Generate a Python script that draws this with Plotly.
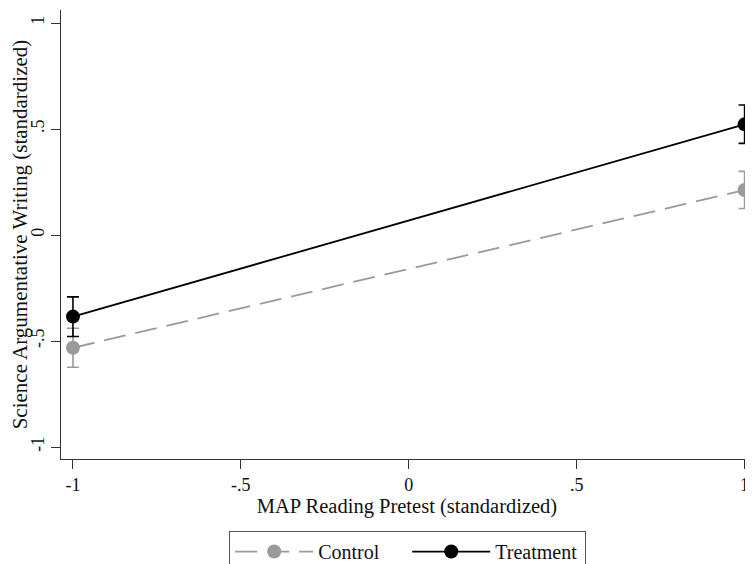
import plotly.graph_objects as go

# Data
x_vals = [-1, 1]
control_mean = [-0.532, 0.212]
control_lo = [-0.624, 0.125]
control_hi = [-0.440, 0.300]
treat_mean = [-0.385, 0.522]
treat_lo = [-0.479, 0.432]
treat_hi = [-0.292, 0.613]

x_ticks = [-1, -0.5, 0, 0.5, 1]
x_ticklabels = ["-1", "-.5", "0", ".5", "1"]
y_ticks = [-1, -0.5, 0, 0.5, 1]
y_ticklabels = ["-1", "-.5", "0", ".5", "1"]

FONT = "Liberation Serif"
GRAY = "#9a9a9a"

fig = go.Figure()

def add_series(name, mean, lo, hi, color, dash):
    fig.add_trace(go.Scatter(
        x=x_vals, y=mean, name=name, mode="lines+markers",
        line=dict(color=color, width=1.8, dash=dash),
        marker=dict(color=color, size=14, symbol="circle"),
        error_y=dict(type="data", symmetric=False,
                     array=[h - m for h, m in zip(hi, mean)],
                     arrayminus=[m - l for m, l in zip(mean, lo)],
                     color=color, thickness=1.6, width=6),
        cliponaxis=False,
    ))

add_series("Control", control_mean, control_lo, control_hi, GRAY, "22px,10px")
add_series("Treatment", treat_mean, treat_lo, treat_hi, "#000000", "solid")

# the page body adds an 8px offset, so the figure is 8px smaller
fig.update_layout(
    width=745, height=556,
    margin=dict(l=53, r=0, t=2, b=105, autoexpand=False),
    paper_bgcolor="white", plot_bgcolor="white",
    font=dict(family=FONT, color="#111111", size=15),
    showlegend=True,
    legend=dict(
        orientation="h", x=0.2428, y=-0.16, xanchor="left", yanchor="top",
        bordercolor="#555555", borderwidth=1.2, bgcolor="white",
        font=dict(family=FONT, size=20, color="#111111"),
        itemwidth=78, entrywidth=84,
    ),
    xaxis=dict(
        range=[-1.0356, 1.025], tickvals=x_ticks, ticktext=x_ticklabels,
        showgrid=False, zeroline=False, showline=True, linecolor="#333333",
        linewidth=1.2, ticks="outside", ticklen=9, tickcolor="#333333",
        tickfont=dict(family=FONT, size=18), automargin=False,
        ticklabeloverflow="allow",
        title=dict(text="MAP Reading Pretest (standardized)",
                   font=dict(family=FONT, size=20.5), standoff=2),
    ),
    yaxis=dict(
        range=[-1.0566, 1.0613], tickvals=y_ticks, ticktext=y_ticklabels,
        showgrid=False, zeroline=False, showline=True, linecolor="#333333",
        linewidth=1.2, ticks="outside", ticklen=9, tickcolor="#333333",
        tickangle=-90, tickfont=dict(family=FONT, size=18), automargin=False,
        title=dict(text="Science Argumentative Writing (standardized)",
                   font=dict(family=FONT, size=21), standoff=4),
    ),
)

fig.write_html("out.html")
